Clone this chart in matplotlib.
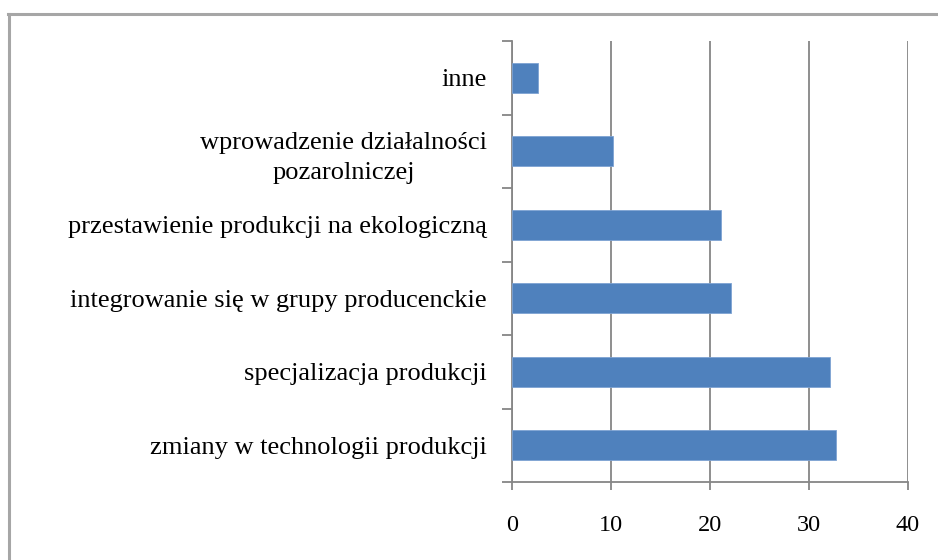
import matplotlib
matplotlib.use("Agg")
import matplotlib.pyplot as plt
from matplotlib.lines import Line2D

# Categories listed bottom to top
categories = [
    "zmiany w technologii produkcji",
    "specjalizacja produkcji",
    "integrowanie się w grupy producenckie",
    "przestawienie produkcji na ekologiczną",
    "wprowadzenie działalności\npozarolniczej",
    "inne",
]
values = [32.7, 32.1, 22.1, 21.1, 10.2, 2.6]
x_ticks = [0, 10, 20, 30, 40]

W, H = 938, 560
fig = plt.figure(figsize=(W / 100, H / 100), dpi=100)
fig.patch.set_facecolor("white")

# outer frame (cut off at right and bottom)
frame_color = "#a6a6a6"
fig.add_artist(Line2D([8.5 / W, 8.5 / W], [0, 1 - 13.5 / H], transform=fig.transFigure,
                      color=frame_color, lw=2.2))
fig.add_artist(Line2D([7.5 / W, 1], [1 - 13.5 / H, 1 - 13.5 / H], transform=fig.transFigure,
                      color=frame_color, lw=2.2))

left, right, top, bottom = 512, 908, 41, 482
ax = fig.add_axes([left / W, 1 - bottom / H, (right - left) / W, (bottom - top) / H])

ypos = list(range(len(categories)))
ax.barh(ypos, values, height=0.41, color="#4f81bd", edgecolor="#7ea3d3", linewidth=0.6, zorder=3)

ax.set_xlim(0, 40)
ax.set_ylim(-0.5, len(categories) - 0.5)

axis_color = "#868686"
ax.set_xticks(x_ticks)
ax.set_xticklabels([str(t) for t in x_ticks])
ax.xaxis.grid(True, color=axis_color, lw=1.3, zorder=0)
ax.set_axisbelow(True)

ax.set_yticks(ypos)
ax.set_yticklabels(categories, ha="right", multialignment="center", linespacing=1.5)
ax.set_yticks([y - 0.5 for y in ypos] + [len(categories) - 0.5], minor=True)
ax.tick_params(axis="y", which="major", length=0, pad=18)
ax.tick_params(axis="y", which="minor", length=7, width=1.3, color=axis_color)
ax.tick_params(axis="x", length=6, width=1.3, color=axis_color, pad=17.5)

for s in ["top", "right"]:
    ax.spines[s].set_visible(False)
for s in ["left", "bottom"]:
    ax.spines[s].set_color(axis_color)
    ax.spines[s].set_linewidth(1.3)

for lbl in ax.get_yticklabels():
    lbl.set_fontfamily("Liberation Serif")
    lbl.set_fontsize(19)
for lbl in ax.get_xticklabels():
    lbl.set_fontfamily("Liberation Serif")
    lbl.set_fontsize(17.5)

fig.savefig("out.png", dpi=100)
